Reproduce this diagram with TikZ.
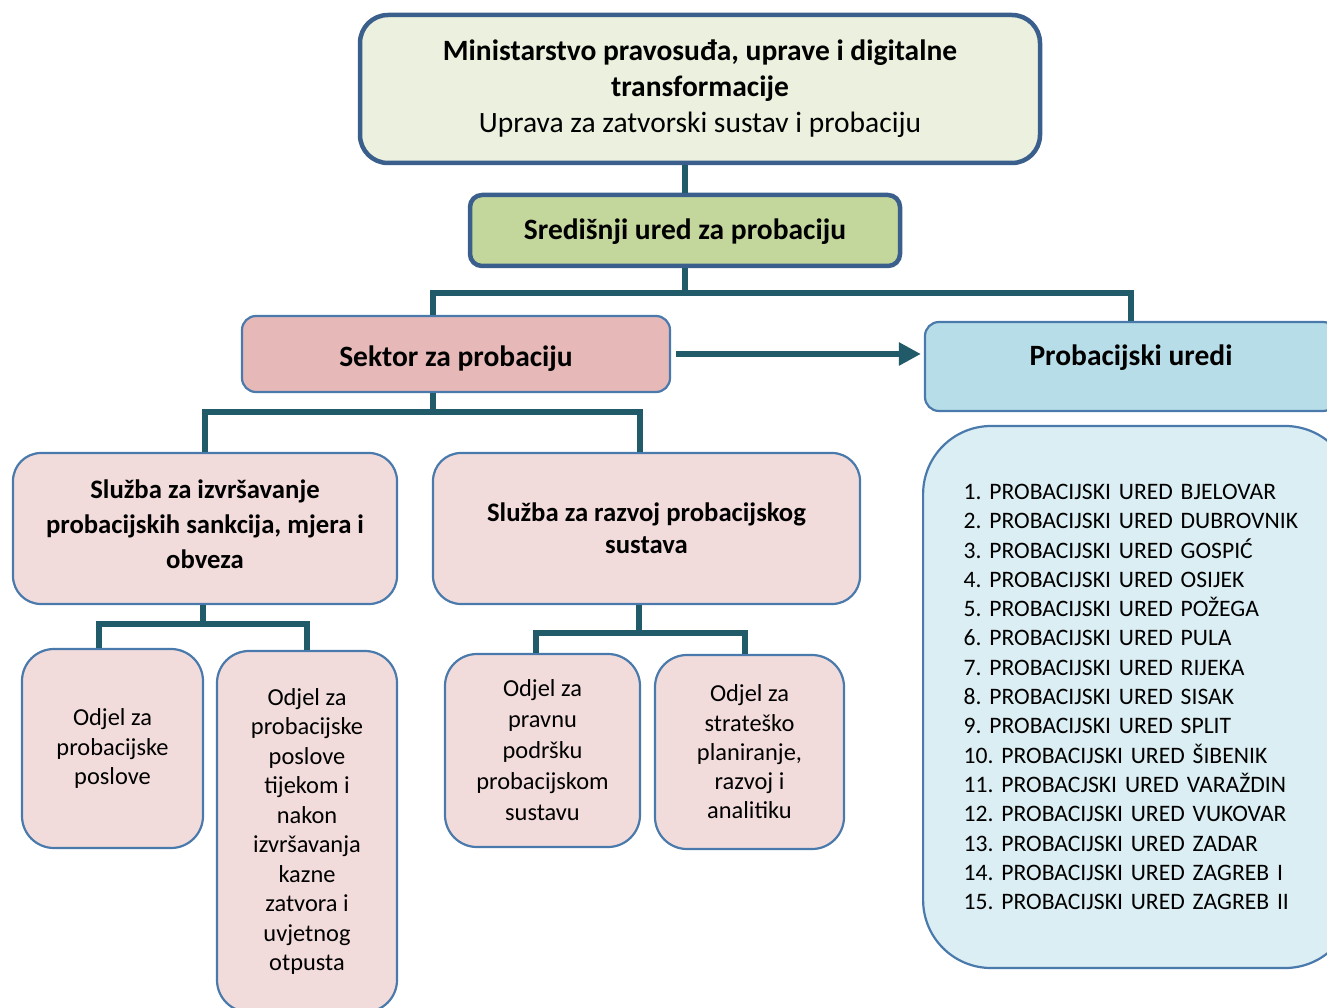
\documentclass[tikz,border=0pt]{standalone}
\usepackage{fontspec}
\setmainfont{Carlito}
\usetikzlibrary{arrows.meta}
\definecolor{darkborder}{HTML}{3A5F8C}
\definecolor{midborder}{HTML}{4A79AC}
\definecolor{teal}{HTML}{215A68}
\definecolor{topfill}{HTML}{EBF1DE}
\definecolor{centralfill}{HTML}{C3D69B}
\definecolor{sektorfill}{HTML}{E6B9B8}
\definecolor{pinkfill}{HTML}{F2DCDB}
\definecolor{bluefill}{HTML}{B7DEE8}
\definecolor{listfill}{HTML}{DBEEF3}
\frenchspacing
\begin{document}
\begin{tikzpicture}[x=1pt,y=-1pt,
  heavybox/.style={draw=darkborder, line width=4.5pt, align=center, inner sep=0pt},
  lightbox/.style={draw=midborder, line width=2.2pt, align=center, inner sep=0pt},
  conn/.style={draw=teal, line width=6pt},
  headtext/.style={font=\fontsize{29.5}{36}\selectfont},
  odjeltext/.style={font=\fontsize{24.4}{29.5}\selectfont},
]
\useasboundingbox (0,0) rectangle (1327,1008);

% top level
\node[heavybox, fill=topfill, rounded corners=28pt, minimum width=680pt, minimum height=148pt, headtext]
  (top) at (700,89) {\textbf{Ministarstvo pravosuđa, uprave i digitalne}\\\textbf{transformacije}\\Uprava za zatvorski sustav i probaciju};

\node[heavybox, fill=centralfill, rounded corners=12pt, minimum width=430pt, minimum height=71pt, headtext,
  text height=24pt, text depth=6pt]
  (central) at (685,230.5) {\textbf{Središnji ured za probaciju}};

\node[lightbox, fill=sektorfill, rounded corners=14pt, minimum width=428pt, minimum height=76pt, headtext,
  text height=30pt, text depth=6pt]
  (sektor) at (456,354) {\textbf{Sektor za probaciju}};

\node[lightbox, fill=bluefill, rounded corners=14pt, minimum width=412pt, minimum height=89pt, headtext,
  text height=20pt, text depth=22pt]
  (pu) at (1131,366.5) {\textbf{Probacijski uredi}};

\node[lightbox, fill=listfill, rounded corners=68pt, minimum width=430pt, minimum height=542pt,
  anchor=west, align=left, text width=349pt, inner xsep=39pt, font=\fontsize{23.6}{29.3}\selectfont]
  (list) at (922,697) {1. PROBACIJSKI URED BJELOVAR\\
2. PROBACIJSKI URED DUBROVNIK\\
3. PROBACIJSKI URED GOSPIĆ\\
4. PROBACIJSKI URED OSIJEK\\
5. PROBACIJSKI URED POŽEGA\\
6. PROBACIJSKI URED PULA\\
7. PROBACIJSKI URED RIJEKA\\
8. PROBACIJSKI URED SISAK\\
9. PROBACIJSKI URED SPLIT\\
10. PROBACIJSKI URED ŠIBENIK\\
11. PROBACJSKI URED VARAŽDIN\\
12. PROBACIJSKI URED VUKOVAR\\
13. PROBACIJSKI URED ZADAR\\
14. PROBACIJSKI URED ZAGREB I\\
15. PROBACIJSKI URED ZAGREB II};

% sluzbe
\node[lightbox, fill=pinkfill, rounded corners=28pt, minimum width=384pt, minimum height=151pt,
  font=\fontsize{26.7}{35}\selectfont]
  (s1) at (205,528.5) {\textbf{Služba za izvršavanje}\\\textbf{probacijskih sankcija, mjera i}\\\textbf{obveza}\\[-27pt]\mbox{}};

\node[lightbox, fill=pinkfill, rounded corners=28pt, minimum width=427pt, minimum height=151pt,
  font=\fontsize{26.7}{32}\selectfont]
  (s2) at (646.5,528.5) {\textbf{Služba za razvoj probacijskog}\\\textbf{sustava}};

% odjeli
\node[lightbox, fill=pinkfill, rounded corners=32pt, minimum width=181pt, minimum height=199pt, odjeltext]
  (o1) at (112.5,748.5) {Odjel za\\probacijske\\poslove};

\node[lightbox, fill=pinkfill, rounded corners=32pt, minimum width=180pt, minimum height=361pt, odjeltext]
  (o2) at (307,831.5) {Odjel za\\probacijske\\poslove\\tijekom i\\nakon\\izvršavanja\\kazne\\zatvora i\\uvjetnog\\otpusta};

\node[lightbox, fill=pinkfill, rounded corners=32pt, minimum width=195pt, minimum height=193pt,
  font=\fontsize{24.4}{31}\selectfont]
  (o3) at (542.5,750.5) {Odjel za\\pravnu\\podršku\\probacijskom\\sustavu};

\node[lightbox, fill=pinkfill, rounded corners=32pt, minimum width=189pt, minimum height=194pt,
  font=\fontsize{24.4}{29.3}\selectfont]
  (o4) at (749.5,752) {Odjel za\\strateško\\planiranje,\\razvoj i\\analitiku};

% connectors
\draw[conn] (central.north) -- (central.north |- top.south);
\draw[conn] (central.south) -- ++(0,25) coordinate (b1);
\draw[conn] ([xshift=-23pt]sektor.north) |- (b1) -| (pu.north);
\draw[conn, -{Triangle[length=22pt,width=22pt]}] ([xshift=5pt]sektor.east) -- ([xshift=-3pt]pu.west |- sektor.east);
\draw[conn] ([xshift=-23pt]sektor.south) -- ++(0,19) coordinate (b2);
\draw[conn] (s1.north) |- (b2) -| ([xshift=-6.5pt]s2.north);
\draw[conn] ([xshift=-2pt]s1.south) -- ++(0,19) coordinate (b3);
\draw[conn] ([xshift=-13.5pt]o1.north) |- (b3) -| (o2.north);
\draw[conn] ([xshift=-7.5pt]s2.south) -- ++(0,28) coordinate (b4);
\draw[conn] ([xshift=-6.5pt]o3.north) |- (b4) -| ([xshift=-4.5pt]o4.north);
\end{tikzpicture}
\end{document}
